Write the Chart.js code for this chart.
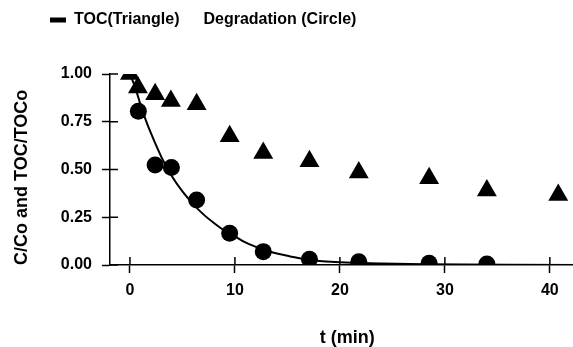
<!DOCTYPE html>
<html>
<head>
<meta charset="utf-8">
<script src="https://cdn.jsdelivr.net/npm/chart.js@4"></script>
<style>
  body { margin: 0; background: #fff; }
  #outer { width: 573px; height: 347px; overflow: hidden; }
  #wrap { width: 596px; height: 347px; }
</style>
</head>
<body>
<div id="outer"><div id="wrap"><canvas id="kinetics"></canvas></div></div>
<script>
// values
var tocTime = [0, 0.76, 2.4, 3.9, 6.35, 9.5, 12.7, 17.1, 21.8, 28.5, 34.0, 40.8];
var tocValues = [1.0, 0.929, 0.894, 0.859, 0.842, 0.674, 0.587, 0.543, 0.484, 0.454, 0.39, 0.367];

var degTime = [0.8, 2.4, 3.95, 6.35, 9.5, 12.7, 17.1, 21.8, 28.5, 34.0];
var degValues = [0.805, 0.524, 0.51, 0.34, 0.166, 0.07, 0.03, 0.017, 0.009, 0.005];

// fitted decay curve
var fitTime = [0, 0.5, 1, 1.5, 2, 3, 4, 5, 6, 7, 8, 9, 10, 11, 12, 13, 14, 15, 17, 20, 24, 28, 32, 36, 43];
var fitValues = [1.0, 0.93, 0.84, 0.76, 0.69, 0.565, 0.465, 0.385, 0.32, 0.265, 0.22, 0.18, 0.15, 0.118, 0.095, 0.075, 0.06, 0.048, 0.028, 0.014, 0.008, 0.004, 0.002, 0.001, 0.0];

var xTicks = [0, 10, 20, 30, 40];
var yTicks = [0, 0.25, 0.5, 0.75, 1.0];

var legendText = ['TOC(Triangle)', 'Degradation (Circle)'];

function pairs(xs, ys) {
    return xs.map(function (x, i) { return {x: x, y: ys[i]}; });
}

Chart.defaults.color = '#000';
Chart.defaults.font.family = '"Liberation Sans", Arial, sans-serif';
Chart.defaults.font.weight = 'bold';

// ticks cross the axis lines: draw the inner halves
var innerTicks = {
    id: 'innerTicks',
    beforeDatasetsDraw: function (chart) {
        var ctx = chart.ctx, area = chart.chartArea;
        var sx = chart.scales.x, sy = chart.scales.y;
        ctx.save();
        ctx.strokeStyle = '#000';
        ctx.lineWidth = 1.5;
        ctx.beginPath();
        sx.ticks.forEach(function (t) {
            var px = sx.getPixelForValue(t.value);
            ctx.moveTo(px, area.bottom);
            ctx.lineTo(px, area.bottom - 8);
        });
        sy.ticks.forEach(function (t) {
            var py = sy.getPixelForValue(t.value);
            ctx.moveTo(area.left, py);
            ctx.lineTo(area.left + 8, py);
        });
        ctx.stroke();
        ctx.restore();
    }
};

var ctx = document.getElementById('kinetics').getContext('2d');
var chart = new Chart(ctx, {
    type: 'scatter',
    data: {
        datasets: [{
            label: 'TOC(Triangle)',
            data: pairs(tocTime, tocValues),
            pointStyle: 'triangle',
            pointRadius: 11.5,
            pointBackgroundColor: '#000',
            pointBorderWidth: 0,
            showLine: false
        }, {
            label: 'Degradation (Circle)',
            data: pairs(degTime, degValues),
            pointStyle: 'circle',
            pointRadius: 8.5,
            pointBackgroundColor: '#000',
            pointBorderWidth: 0,
            showLine: false
        }, {
            label: 'fit',
            type: 'line',
            data: pairs(fitTime, fitValues),
            borderColor: '#000',
            borderWidth: 2,
            pointRadius: 0,
            fill: false,
            cubicInterpolationMode: 'monotone'
        }]
    },
    options: {
        responsive: true,
        maintainAspectRatio: false,
        animation: false,
        layout: { padding: { top: 12, left: 50, right: 0, bottom: 0 } },
        plugins: {
            tooltip: { enabled: false },
            legend: {
                position: 'top',
                align: 'start',
                labels: {
                    boxWidth: 16,
                    boxHeight: 5,
                    padding: 0,
                    font: { size: 16, weight: 'bold' },
                    generateLabels: function () {
                        return [
                            { text: legendText[0], fillStyle: '#000', strokeStyle: '#000', lineWidth: 0, hidden: false, datasetIndex: 0 },
                            { text: legendText[1], fillStyle: 'rgba(0,0,0,0)', strokeStyle: 'rgba(0,0,0,0)', lineWidth: 0, hidden: false, datasetIndex: 1 }
                        ];
                    }
                }
            },
            // empty title used as a spacer under the legend
            title: {
                display: true,
                text: ' ',
                weight: 500,
                font: { size: 10 },
                padding: { top: 0, bottom: 24 }
            }
        },
        scales: {
            x: {
                type: 'linear',
                min: -1.9,
                max: 43.3,
                afterBuildTicks: function (s) { s.ticks = xTicks.map(function (v) { return {value: v}; }); },
                afterFit: function (s) { s.height = 82; },
                border: { color: '#000', width: 1.5 },
                grid: { drawOnChartArea: false, tickLength: 8, tickWidth: 1.5, tickColor: '#000' },
                ticks: { padding: 8, font: { size: 16, weight: 'bold' }, maxRotation: 0 },
                title: {
                    display: true,
                    text: 't (min)',
                    font: { size: 18, weight: 'bold' },
                    padding: { top: 0, bottom: -2 }
                }
            },
            y: {
                min: 0,
                max: 1,
                afterBuildTicks: function (s) { s.ticks = yTicks.map(function (v) { return {value: v}; }); },
                afterFit: function (s) { s.width = 60; },
                border: { color: '#000', width: 1.5 },
                grid: { drawOnChartArea: false, tickLength: 8, tickWidth: 1.5, tickColor: '#000' },
                ticks: {
                    padding: 10,
                    font: { size: 16, weight: 'bold' },
                    callback: function (v) { return v.toFixed(2); }
                },
                title: {
                    display: true,
                    text: 'C/Co and TOC/TOCo',
                    align: 'start',
                    font: { size: 18, weight: 'bold' },
                    padding: { top: -39, bottom: 0 }
                }
            }
        }
    },
    plugins: [innerTicks]
});
</script>
</body>
</html>
